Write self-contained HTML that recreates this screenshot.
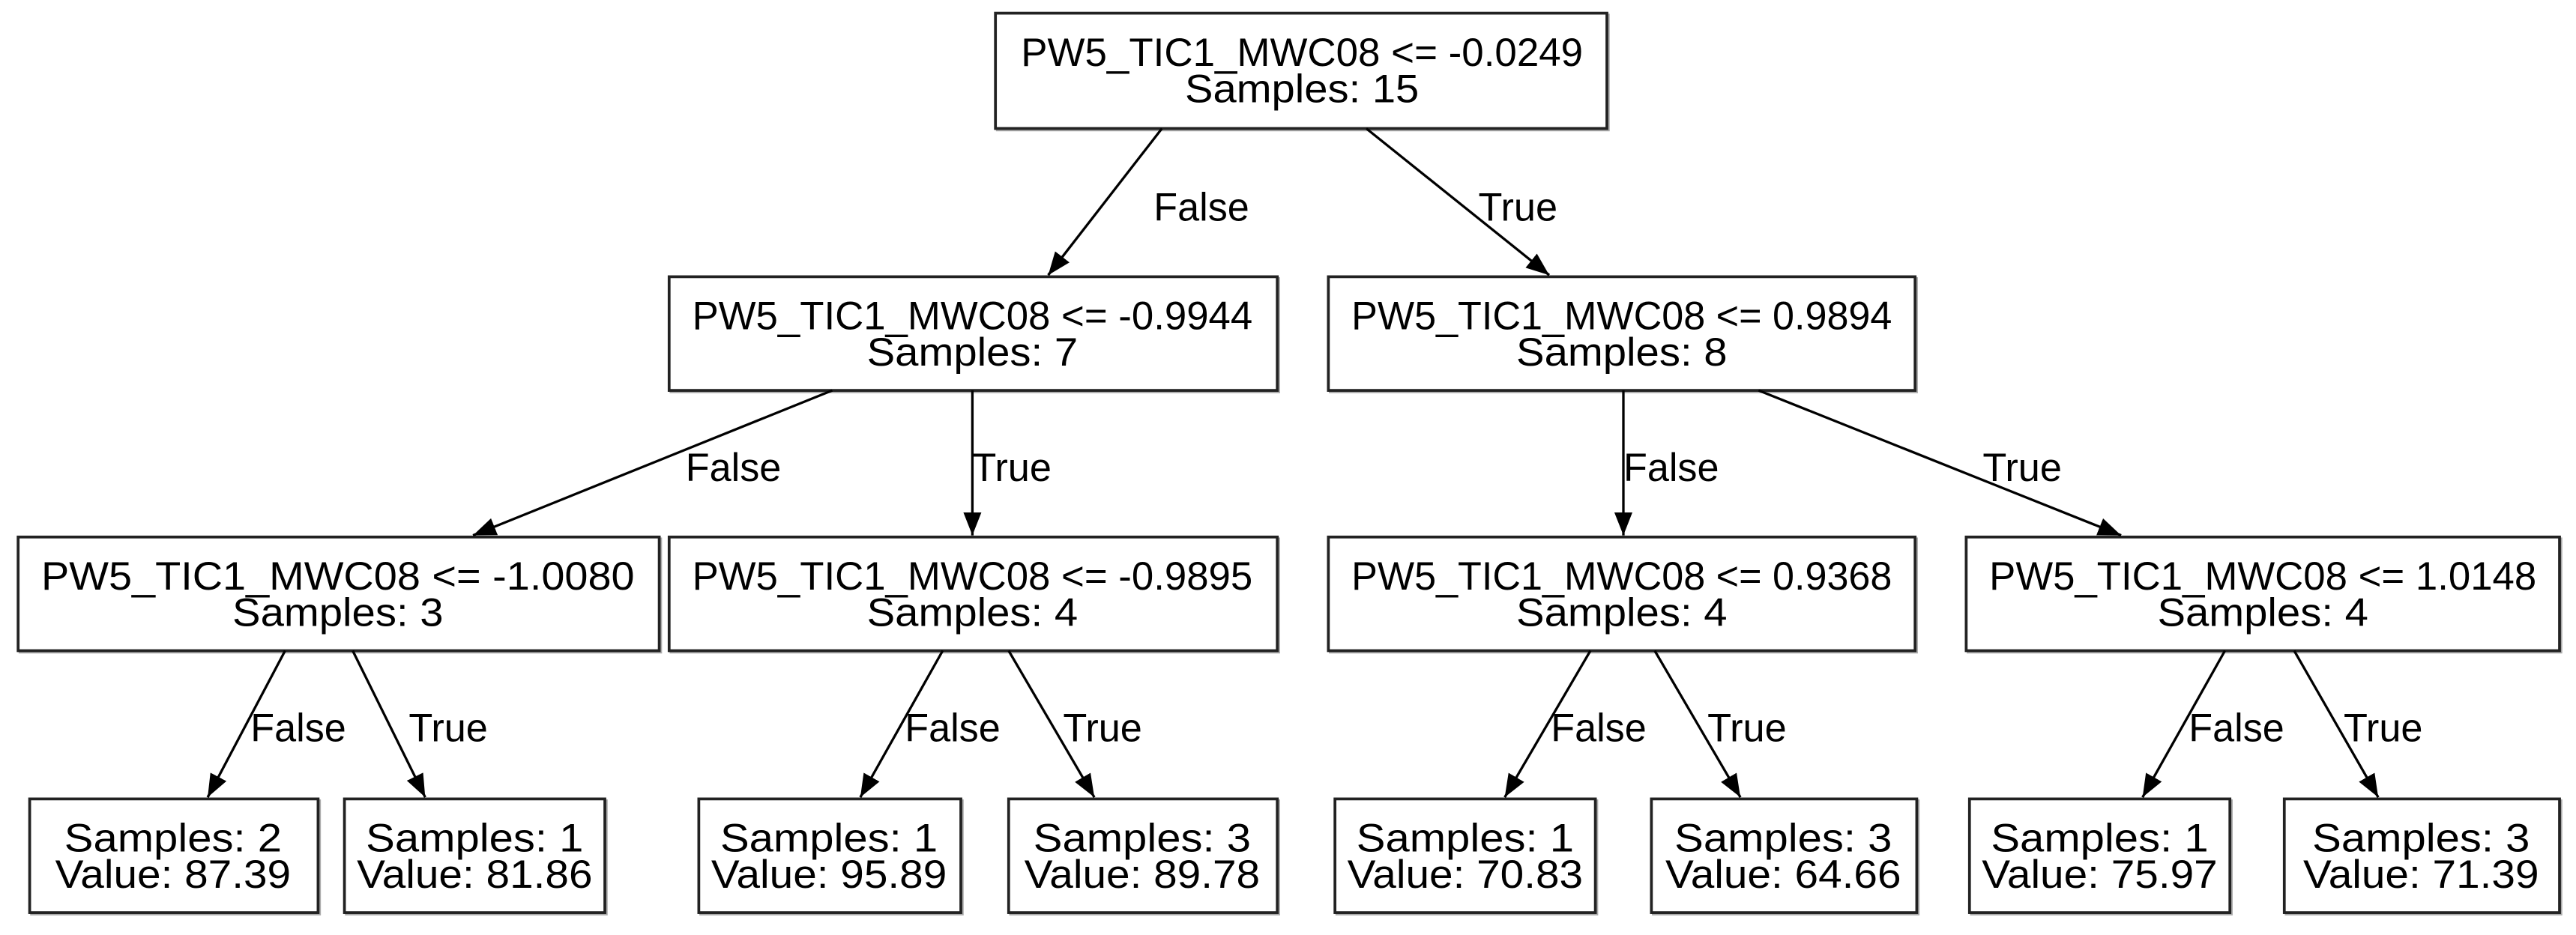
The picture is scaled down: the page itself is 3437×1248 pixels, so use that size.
<!DOCTYPE html>
<html><head><meta charset="utf-8"><style>
html,body{margin:0;padding:0;background:#fff;}
svg{display:block;}
text{font-family:"Liberation Sans",Arial,sans-serif;fill:#000;}
</style></head><body>
<svg width="3437" height="1248" viewBox="0 0 1563 567.6" preserveAspectRatio="none" xmlns="http://www.w3.org/2000/svg">
<defs>
<marker id="a" viewBox="0 0 14 11" refX="14" refY="5.5" markerWidth="14" markerHeight="11" markerUnits="userSpaceOnUse" orient="auto">
<path d="M0,0 L14,5.5 L0,11 z" fill="#000"/>
</marker>
</defs>
<g stroke="#aaa" stroke-width="1.4" fill="none">
<rect x="605" y="9" width="371" height="70"/>
<rect x="407" y="169" width="369" height="69"/>
<rect x="807" y="169" width="356" height="69"/>
<rect x="12" y="327" width="389" height="69"/>
<rect x="407" y="327" width="369" height="69"/>
<rect x="807" y="327" width="356" height="69"/>
<rect x="1194" y="327" width="360" height="69"/>
<rect x="19" y="486" width="175" height="69"/>
<rect x="210" y="486" width="158" height="69"/>
<rect x="425" y="486" width="159" height="69"/>
<rect x="613" y="486" width="163" height="69"/>
<rect x="811" y="486" width="158" height="69"/>
<rect x="1003" y="486" width="161" height="69"/>
<rect x="1196" y="486" width="158" height="69"/>
<rect x="1387" y="486" width="167" height="69"/>
</g>
<g stroke="#222" stroke-width="1.7" fill="#fff">
<rect x="604" y="8" width="371" height="70"/>
<rect x="406" y="168" width="369" height="69"/>
<rect x="806" y="168" width="356" height="69"/>
<rect x="11" y="326" width="389" height="69"/>
<rect x="406" y="326" width="369" height="69"/>
<rect x="806" y="326" width="356" height="69"/>
<rect x="1193" y="326" width="360" height="69"/>
<rect x="18" y="485" width="175" height="69"/>
<rect x="209" y="485" width="158" height="69"/>
<rect x="424" y="485" width="159" height="69"/>
<rect x="612" y="485" width="163" height="69"/>
<rect x="810" y="485" width="158" height="69"/>
<rect x="1002" y="485" width="161" height="69"/>
<rect x="1195" y="485" width="158" height="69"/>
<rect x="1386" y="485" width="167" height="69"/>
</g>
<g stroke="#000" stroke-width="1.5" marker-end="url(#a)">
<line x1="705" y1="78" x2="636" y2="167"/>
<line x1="829" y1="78" x2="940" y2="167"/>
<line x1="505" y1="237" x2="287" y2="325"/>
<line x1="590" y1="237" x2="590" y2="325"/>
<line x1="985" y1="237" x2="985" y2="325"/>
<line x1="1067" y1="237" x2="1287" y2="325"/>
<line x1="173" y1="395" x2="126" y2="484"/>
<line x1="214" y1="395" x2="258" y2="484"/>
<line x1="572" y1="395" x2="522" y2="484"/>
<line x1="612" y1="395" x2="664" y2="484"/>
<line x1="965" y1="395" x2="913" y2="484"/>
<line x1="1004" y1="395" x2="1056" y2="484"/>
<line x1="1350" y1="395" x2="1300" y2="484"/>
<line x1="1392" y1="395" x2="1443" y2="484"/>
</g>
<g font-size="24" text-anchor="middle">
<text x="790" y="40" textLength="341" lengthAdjust="spacingAndGlyphs">PW5_TIC1_MWC08 &lt;= -0.0249</text>
<text x="790" y="62" textLength="142" lengthAdjust="spacingAndGlyphs">Samples: 15</text>
<text x="590" y="200" textLength="340" lengthAdjust="spacingAndGlyphs">PW5_TIC1_MWC08 &lt;= -0.9944</text>
<text x="590" y="222" textLength="128" lengthAdjust="spacingAndGlyphs">Samples: 7</text>
<text x="984" y="200" textLength="328" lengthAdjust="spacingAndGlyphs">PW5_TIC1_MWC08 &lt;= 0.9894</text>
<text x="984" y="222" textLength="128" lengthAdjust="spacingAndGlyphs">Samples: 8</text>
<text x="205" y="358" textLength="360" lengthAdjust="spacingAndGlyphs">PW5_TIC1_MWC08 &lt;= -1.0080</text>
<text x="205" y="380" textLength="128" lengthAdjust="spacingAndGlyphs">Samples: 3</text>
<text x="590" y="358" textLength="340" lengthAdjust="spacingAndGlyphs">PW5_TIC1_MWC08 &lt;= -0.9895</text>
<text x="590" y="380" textLength="128" lengthAdjust="spacingAndGlyphs">Samples: 4</text>
<text x="984" y="358" textLength="328" lengthAdjust="spacingAndGlyphs">PW5_TIC1_MWC08 &lt;= 0.9368</text>
<text x="984" y="380" textLength="128" lengthAdjust="spacingAndGlyphs">Samples: 4</text>
<text x="1373" y="358" textLength="332" lengthAdjust="spacingAndGlyphs">PW5_TIC1_MWC08 &lt;= 1.0148</text>
<text x="1373" y="380" textLength="128" lengthAdjust="spacingAndGlyphs">Samples: 4</text>

<text x="105" y="517" textLength="132" lengthAdjust="spacingAndGlyphs">Samples: 2</text>
<text x="105" y="539" textLength="143" lengthAdjust="spacingAndGlyphs">Value: 87.39</text>
<text x="288" y="517" textLength="132" lengthAdjust="spacingAndGlyphs">Samples: 1</text>
<text x="288" y="539" textLength="143" lengthAdjust="spacingAndGlyphs">Value: 81.86</text>
<text x="503" y="517" textLength="132" lengthAdjust="spacingAndGlyphs">Samples: 1</text>
<text x="503" y="539" textLength="143" lengthAdjust="spacingAndGlyphs">Value: 95.89</text>
<text x="693" y="517" textLength="132" lengthAdjust="spacingAndGlyphs">Samples: 3</text>
<text x="693" y="539" textLength="143" lengthAdjust="spacingAndGlyphs">Value: 89.78</text>
<text x="889" y="517" textLength="132" lengthAdjust="spacingAndGlyphs">Samples: 1</text>
<text x="889" y="539" textLength="143" lengthAdjust="spacingAndGlyphs">Value: 70.83</text>
<text x="1082" y="517" textLength="132" lengthAdjust="spacingAndGlyphs">Samples: 3</text>
<text x="1082" y="539" textLength="143" lengthAdjust="spacingAndGlyphs">Value: 64.66</text>
<text x="1274" y="517" textLength="132" lengthAdjust="spacingAndGlyphs">Samples: 1</text>
<text x="1274" y="539" textLength="143" lengthAdjust="spacingAndGlyphs">Value: 75.97</text>
<text x="1469" y="517" textLength="132" lengthAdjust="spacingAndGlyphs">Samples: 3</text>
<text x="1469" y="539" textLength="143" lengthAdjust="spacingAndGlyphs">Value: 71.39</text>
</g>
<g font-size="24" text-anchor="middle">
<text x="729" y="134" textLength="58" lengthAdjust="spacingAndGlyphs">False</text>
<text x="921" y="134" textLength="48" lengthAdjust="spacingAndGlyphs">True</text>
<text x="445" y="292" textLength="58" lengthAdjust="spacingAndGlyphs">False</text>
<text x="614" y="292" textLength="48" lengthAdjust="spacingAndGlyphs">True</text>
<text x="1014" y="292" textLength="58" lengthAdjust="spacingAndGlyphs">False</text>
<text x="1227" y="292" textLength="48" lengthAdjust="spacingAndGlyphs">True</text>
<text x="181" y="450" textLength="58" lengthAdjust="spacingAndGlyphs">False</text>
<text x="272" y="450" textLength="48" lengthAdjust="spacingAndGlyphs">True</text>
<text x="578" y="450" textLength="58" lengthAdjust="spacingAndGlyphs">False</text>
<text x="669" y="450" textLength="48" lengthAdjust="spacingAndGlyphs">True</text>
<text x="970" y="450" textLength="58" lengthAdjust="spacingAndGlyphs">False</text>
<text x="1060" y="450" textLength="48" lengthAdjust="spacingAndGlyphs">True</text>
<text x="1357" y="450" textLength="58" lengthAdjust="spacingAndGlyphs">False</text>
<text x="1446" y="450" textLength="48" lengthAdjust="spacingAndGlyphs">True</text>
</g>
</svg>
</body></html>
